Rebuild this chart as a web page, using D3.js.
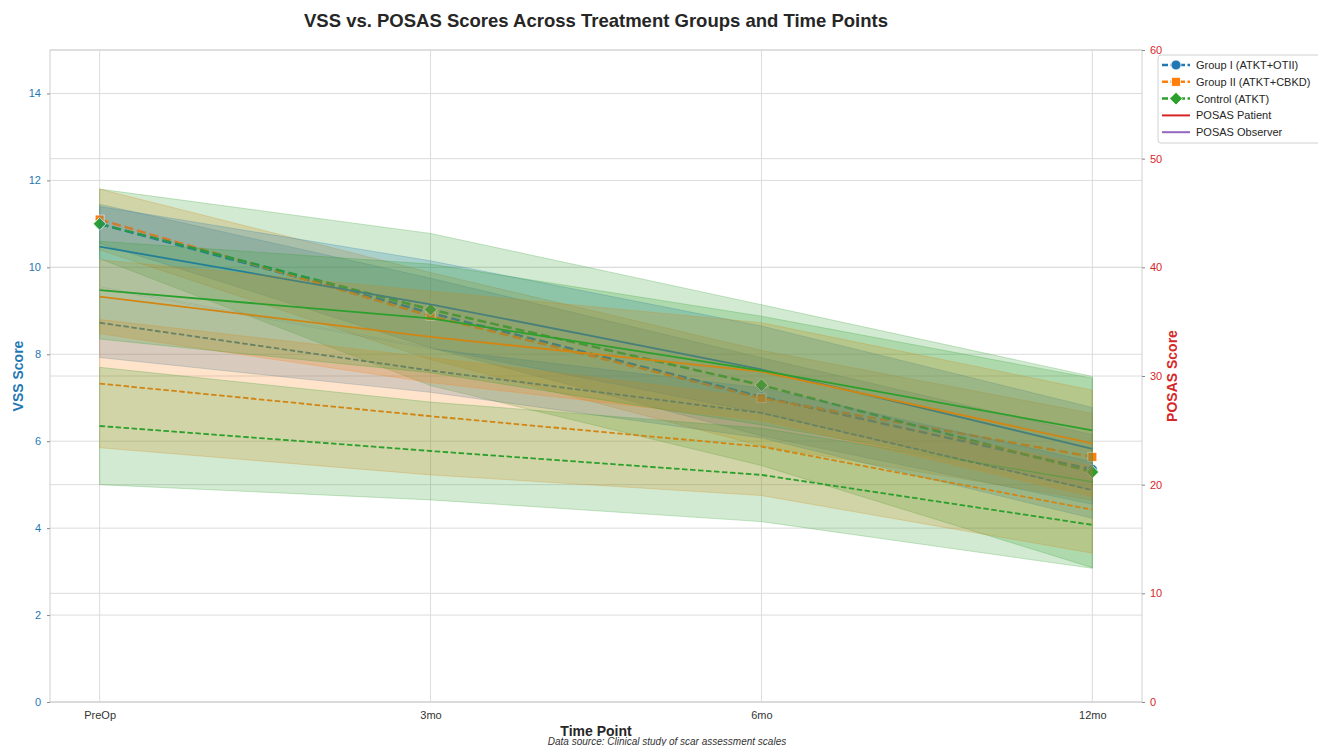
<!DOCTYPE html>
<html>
<head>
<meta charset="utf-8">
<script src="https://cdn.jsdelivr.net/npm/d3@7"></script>
<style>
  body { margin: 0; background: #fff; }
  svg { font-family: "Liberation Sans", Arial, sans-serif; }
</style>
</head>
<body>
<script>
const width = 1318;
const height = 746;
const margin = { left: 50, right: 176, top: 50, bottom: 44 };

// data
const timePoints = ["PreOp", "3mo", "6mo", "12mo"];
const groups = ["Group I (ATKT+OTII)", "Group II (ATKT+CBKD)", "Control (ATKT)"];
const groupColors = ["#1f77b4", "#ff7f0e", "#2ca02c"];
const groupMarkers = ["circle", "square", "diamond"];

const vssMean = [
  [11.0, 8.95, 7.02, 5.35],
  [11.1, 8.88, 6.99, 5.64],
  [11.0, 9.03, 7.29, 5.29]
];
const vssSd = [
  [0.45, 0.8, 0.9, 0.8],
  [0.7, 1.0, 1.1, 1.0],
  [0.8, 1.75, 1.85, 2.2]
];
const patientMean = [
  [41.9, 36.6, 30.6, 23.3],
  [37.3, 33.6, 30.4, 23.8],
  [37.9, 35.3, 30.5, 25.0]
];
const patientSd = [
  [3.7, 4.0, 4.0, 3.8],
  [3.4, 4.2, 4.5, 4.9],
  [4.5, 5.0, 5.0, 4.8]
];
const observerMean = [
  [34.9, 30.5, 26.6, 19.5],
  [29.3, 26.3, 23.5, 17.7],
  [25.4, 23.1, 20.9, 16.3]
];
const observerSd = [
  [3.2, 2.0, 2.3, 2.6],
  [5.9, 5.4, 4.5, 4.0],
  [5.4, 4.5, 4.3, 4.0]
];

const vssTicks = [0, 2, 4, 6, 8, 10, 12, 14];
const posasTicks = [0, 10, 20, 30, 40, 50, 60];

const svg = d3.select("body")
  .append("svg")
  .attr("width", width)
  .attr("height", height);

const plotRight = width - margin.right;
const plotBottom = height - margin.bottom;

const x = d3.scalePoint()
  .domain(timePoints)
  .range([margin.left, plotRight])
  .padding(0.15);

const yL = d3.scaleLinear().domain([0, 15]).range([plotBottom, margin.top]);
const yR = d3.scaleLinear().domain([0, 60]).range([plotBottom, margin.top]);

// grid
const grid = svg.append("g").attr("stroke", "#dcdcdc").attr("stroke-width", 1);
grid.selectAll(".gx").data(timePoints).enter().append("line")
  .attr("x1", d => x(d)).attr("x2", d => x(d))
  .attr("y1", margin.top).attr("y2", plotBottom);
grid.selectAll(".gl").data(vssTicks).enter().append("line")
  .attr("x1", margin.left).attr("x2", plotRight)
  .attr("y1", d => yL(d)).attr("y2", d => yL(d));
grid.selectAll(".gr").data(posasTicks).enter().append("line")
  .attr("x1", margin.left).attr("x2", plotRight)
  .attr("y1", d => yR(d)).attr("y2", d => yR(d));

function band(mean, sd, scale) {
  return d3.area()
    .x((d, i) => x(timePoints[i]))
    .y0((d, i) => scale(mean[i] - sd[i]))
    .y1((d, i) => scale(mean[i] + sd[i]))(mean);
}
function line(vals, scale) {
  return d3.line().x((d, i) => x(timePoints[i])).y(d => scale(d))(vals);
}

function drawMarker(g, shape, color, cx, cy) {
  if (shape === "circle") {
    g.append("circle").attr("cx", cx).attr("cy", cy).attr("r", 5)
      .attr("fill", color).attr("stroke", "#fff").attr("stroke-width", 0.8);
  } else if (shape === "square") {
    g.append("rect").attr("x", cx - 4.5).attr("y", cy - 4.5).attr("width", 9).attr("height", 9)
      .attr("fill", color).attr("stroke", "#fff").attr("stroke-width", 0.8);
  } else {
    g.append("rect").attr("x", -4.5).attr("y", -4.5).attr("width", 9).attr("height", 9)
      .attr("transform", `translate(${cx},${cy}) rotate(45)`)
      .attr("fill", color).attr("stroke", "#fff").attr("stroke-width", 0.8);
  }
}

function drawBand(layer, mean, sd, scale, color) {
  layer.append("path")
    .attr("d", band(mean, sd, scale))
    .attr("fill", color).attr("fill-opacity", 0.22)
    .attr("stroke", color).attr("stroke-opacity", 0.25);
}

// VSS bands (left axis)
const vssBands = svg.append("g");
groups.forEach((g, k) => drawBand(vssBands, vssMean[k], vssSd[k], yL, groupColors[k]));

// VSS lines and markers
const vssLayer = svg.append("g");
groups.forEach((g, k) => {
  vssLayer.append("path")
    .attr("d", line(vssMean[k], yL))
    .attr("fill", "none").attr("stroke", groupColors[k])
    .attr("stroke-width", 2.5).attr("stroke-dasharray", "9,4");
  vssMean[k].forEach((v, i) => drawMarker(vssLayer, groupMarkers[k], groupColors[k], x(timePoints[i]), yL(v)));
});

// POSAS (right axis) lines and bands
const posasLayer = svg.append("g");
groups.forEach((g, k) => {
  posasLayer.append("path")
    .attr("d", line(patientMean[k], yR))
    .attr("fill", "none").attr("stroke", groupColors[k]).attr("stroke-width", 1.8);
  drawBand(posasLayer, patientMean[k], patientSd[k], yR, groupColors[k]);
  posasLayer.append("path")
    .attr("d", line(observerMean[k], yR))
    .attr("fill", "none").attr("stroke", groupColors[k])
    .attr("stroke-width", 1.8).attr("stroke-dasharray", "5.5,2.5");
  drawBand(posasLayer, observerMean[k], observerSd[k], yR, groupColors[k]);
});

// frame
svg.append("rect")
  .attr("x", margin.left).attr("y", margin.top)
  .attr("width", plotRight - margin.left).attr("height", plotBottom - margin.top)
  .attr("fill", "none").attr("stroke", "#d0d0d0").attr("stroke-width", 1);

// axes
const axL = svg.append("g").attr("transform", `translate(${margin.left},0)`)
  .call(d3.axisLeft(yL).tickValues(vssTicks).tickSize(3).tickPadding(6));
axL.select(".domain").remove();
axL.selectAll("line").attr("stroke", "#888");
axL.selectAll("text").attr("fill", "#1f77b4").style("font-size", "11px");

const axR = svg.append("g").attr("transform", `translate(${plotRight},0)`)
  .call(d3.axisRight(yR).tickValues(posasTicks).tickSize(3).tickPadding(5));
axR.select(".domain").remove();
axR.selectAll("line").attr("stroke", "#888");
axR.selectAll("text").attr("fill", "#d62728").style("font-size", "11px");

const axX = svg.append("g").attr("transform", `translate(0,${plotBottom})`)
  .call(d3.axisBottom(x).tickSize(0).tickPadding(9));
axX.select(".domain").remove();
axX.selectAll("text").attr("fill", "#333").style("font-size", "11px");

// titles
const cx = (margin.left + plotRight) / 2;
svg.append("text").attr("x", cx).attr("y", 27).attr("text-anchor", "middle")
  .style("font-size", "18.5px").style("font-weight", "bold").attr("fill", "#262626")
  .text("VSS vs. POSAS Scores Across Treatment Groups and Time Points");
svg.append("text").attr("x", cx).attr("y", 736).attr("text-anchor", "middle")
  .style("font-size", "14px").style("font-weight", "bold").attr("fill", "#262626")
  .text("Time Point");
svg.append("text").attr("x", 667).attr("y", 745).attr("text-anchor", "middle")
  .style("font-size", "10px").style("font-style", "italic").attr("fill", "#333")
  .text("Data source: Clinical study of scar assessment scales");
svg.append("text")
  .attr("transform", `translate(23,${(margin.top + plotBottom) / 2}) rotate(-90)`)
  .attr("text-anchor", "middle")
  .style("font-size", "14px").style("font-weight", "bold").attr("fill", "#1f77b4")
  .text("VSS Score");
svg.append("text")
  .attr("transform", `translate(1177,${(margin.top + plotBottom) / 2}) rotate(-90)`)
  .attr("text-anchor", "middle")
  .style("font-size", "14px").style("font-weight", "bold").attr("fill", "#d62728")
  .text("POSAS Score");

// legend
const legendItems = groups.map((g, k) => ({ label: g, color: groupColors[k], dash: "6,2.5", marker: groupMarkers[k], w: 2.5 }))
  .concat([
    { label: "POSAS Patient", color: "#d62728", dash: null, marker: null, w: 2 },
    { label: "POSAS Observer", color: "#9467bd", dash: null, marker: null, w: 2 }
  ]);
const lg = svg.append("g").attr("transform", "translate(1158,55)");
lg.append("rect").attr("x", 0).attr("y", 0).attr("width", 170).attr("height", 88).attr("rx", 3)
  .attr("fill", "#fff").attr("fill-opacity", 0.9).attr("stroke", "#d0d0d0");
legendItems.forEach((d, i) => {
  const yy = 10 + i * 16.8;
  lg.append("line").attr("x1", 4).attr("x2", 32).attr("y1", yy).attr("y2", yy)
    .attr("stroke", d.color).attr("stroke-width", d.w)
    .attr("stroke-dasharray", d.dash);
  if (d.marker) drawMarker(lg, d.marker, d.color, 18, yy);
  lg.append("text").attr("x", 38).attr("y", yy + 4)
    .style("font-size", "11px").attr("fill", "#262626").text(d.label);
});
</script>
</body>
</html>
